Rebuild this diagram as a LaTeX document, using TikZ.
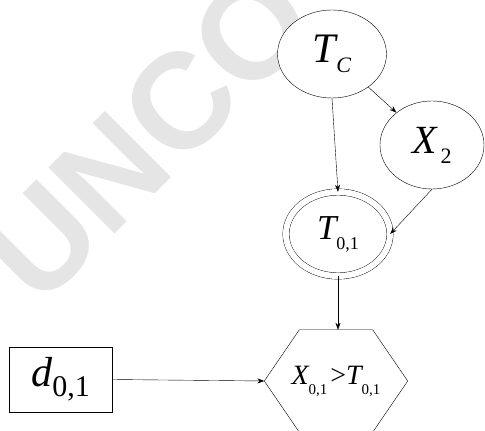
\documentclass[tikz,border=0pt]{standalone}
\usepackage{fontspec}
\setmainfont{Liberation Serif}
\newfontfamily\wmfont{Liberation Sans}
\usetikzlibrary{shapes.geometric,arrows.meta}

% variable with subscript: size, letter, subscript size, subscript
\newcommand{\varsub}[4]{{\fontsize{#1}{#1}\selectfont\itshape #2}\raisebox{-10pt}{\fontsize{#3}{#3}\selectfont #4}}

\begin{document}
\begin{tikzpicture}[
    x=1pt, y=1pt,
    oval/.style={draw, ellipse, fill=white, inner sep=0pt},
    dblov/.style={draw, double, double distance=6pt, ellipse, fill=white, inner sep=0pt, minimum width=104pt, minimum height=84pt},
    hexa/.style={rectangle, inner sep=0pt, minimum width=143pt, minimum height=102pt},
    box/.style={draw, rectangle, fill=white, inner sep=0pt, minimum width=103pt, minimum height=65pt},
    line/.style={draw, -{Stealth[length=7pt,width=5pt]}}
]
\useasboundingbox (0,0) rectangle (485,431);
\clip (0,0) rectangle (485,431);

% watermark
\node[rotate=45, text=black!10, font=\wmfont\bfseries\fontsize{136}{136}\selectfont] (mark) at (148,296) {UNCO};

\node[oval, minimum width=109pt, minimum height=88pt] (tc) at (332,377) {\varsub{42}{T}{22}{\itshape C}};
\node[oval, minimum width=104pt, minimum height=88pt] (xtwo) at (432,286) {\varsub{40}{X}{22}{\,2}};
\node[dblov] (tzero) at (338,197) {\varsub{35}{T}{18}{0,1}};
\node[hexa] (hex) at (336,50) {\varsub{28}{X}{15}{0,1}\;{\fontsize{28}{28}\selectfont >}\varsub{28}{T}{15}{0,1}};
\node[box] (dbox) at (60.5,51.5) {\varsub{42}{d}{30}{0,1}};

% hexagon outline
\draw (hex.west) -- ([xshift=35pt]hex.north west) -- ([xshift=-35pt]hex.north east) -- (hex.east)
  -- ([xshift=-35pt]hex.south east) -- ([xshift=35pt]hex.south west) -- cycle;

\draw[line] (tc.south) -- (tzero.north);
\draw[line] (tc) -- (xtwo);
\draw[line] (xtwo.south) -- (tzero.east);
\draw[line] (tzero.south) -- (tzero.south |- hex.north);
\draw[line] (dbox.east) -- (hex.west);

\end{tikzpicture}
\end{document}
